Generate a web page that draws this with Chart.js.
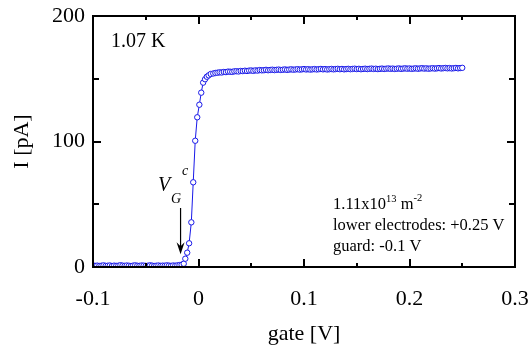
<!DOCTYPE html>
<html lang="en">
<head>
  <meta charset="UTF-8" />
  <title>I vs gate</title>
  <script src="https://cdn.jsdelivr.net/npm/chart.js"></script>
  <style>
    body { margin: 0; background: #fff; }
    .box { width: 530px; height: 347px; }
  </style>
</head>
<body>
  <div class="box"><canvas id="ivChart"></canvas></div>

<script>
// gate voltage [V]
const gateV = [
  -0.100,-0.098,-0.096,-0.094,-0.092,-0.090,-0.088,-0.086,-0.084,-0.082,
  -0.080,-0.078,-0.076,-0.074,-0.072,-0.070,-0.068,-0.066,-0.064,-0.062,
  -0.060,-0.058,-0.056,-0.054,-0.052,-0.050,-0.048,-0.046,-0.044,-0.042,
  -0.040,-0.038,-0.036,-0.034,-0.032,-0.030,-0.028,-0.026,-0.024,-0.022,
  -0.020,-0.018,-0.016,-0.014,
  -0.0125,-0.0107,-0.0089,-0.0068,-0.0050,-0.0031,-0.0012,0.0008,0.0026,0.0044,
  0.0062,0.0079,0.0096,0.0116,
  0.014,0.016,0.018,0.020,0.022,0.024,0.026,0.028,0.030,0.032,
  0.034,0.036,0.038,0.040,0.042,0.044,0.046,0.048,0.050,0.052,
  0.054,0.056,0.058,0.060,0.062,0.064,0.066,0.068,0.070,0.072,
  0.074,0.076,0.078,0.080,0.082,0.084,0.086,0.088,0.090,0.092,
  0.094,0.096,0.098,0.100,0.102,0.104,0.106,0.108,0.110,0.112,
  0.114,0.116,0.118,0.120,0.122,0.124,0.126,0.128,0.130,0.132,
  0.134,0.136,0.138,0.140,0.142,0.144,0.146,0.148,0.150,0.152,
  0.154,0.156,0.158,0.160,0.162,0.164,0.166,0.168,0.170,0.172,
  0.174,0.176,0.178,0.180,0.182,0.184,0.186,0.188,0.190,0.192,
  0.194,0.196,0.198,0.200,0.202,0.204,0.206,0.208,0.210,0.212,
  0.214,0.216,0.218,0.220,0.222,0.224,0.226,0.228,0.230,0.232,
  0.234,0.236,0.238,0.240,0.242,0.244,0.246,0.248,0.250
];

// current [pA]
const currentPA = [
  1.2,0.9,1.1,0.8,1.0,1.3,0.9,1.0,1.2,0.8,
  1.1,0.9,1.0,1.4,1.1,0.9,1.2,1.0,0.8,1.1,
  1.3,1.0,0.9,1.2,1.1,0.9,1.0,1.3,1.1,0.8,
  1.0,1.2,0.9,1.1,1.0,1.3,1.1,0.9,1.2,1.0,
  1.3,1.5,1.8,2.6,
  6.6,11.4,18.9,35.6,67.5,100.6,119.3,129.3,138.9,146.9,
  149.6,151.6,152.7,153.8,
  154.2,154.6,154.8,155.1,155.0,155.4,155.3,155.7,155.6,155.5,
  155.9,156.0,155.8,156.2,156.1,156.4,156.2,156.5,156.6,156.3,
  156.7,156.5,156.9,156.7,156.8,157.1,156.8,157.0,157.2,156.9,
  157.1,157.3,157.0,157.2,157.4,157.1,157.3,157.5,157.2,157.4,
  157.6,157.3,157.5,157.7,157.4,157.6,157.3,157.5,157.7,157.4,
  157.6,157.8,157.5,157.7,157.4,157.6,157.8,157.5,157.7,157.9,
  157.6,157.8,157.5,157.7,157.9,157.6,157.8,158.0,157.7,157.9,
  157.6,157.8,158.0,157.7,157.9,158.1,157.8,158.0,157.7,157.9,
  158.1,157.8,158.0,158.2,157.9,158.1,157.8,158.0,158.2,157.9,
  158.1,158.3,158.0,158.2,157.9,158.1,158.3,158.0,158.2,158.4,
  158.1,158.3,158.0,158.2,158.4,158.1,158.3,158.5,158.2,158.4,
  158.6,158.3,158.5,158.2,158.4,158.6,158.3,158.5,158.7
];

const xMajorTicks = [-0.1, 0, 0.1, 0.2, 0.3];
const xMinorTicks = [-0.05, 0.05, 0.15, 0.25];
const yMajorTicks = [0, 100, 200];
const yMinorTicks = [50, 150];

const serif = "'Liberation Serif', 'Times New Roman', serif";
const blue = '#1818e8';

// frame, inward ticks and the text notes
const frameAndNotes = {
  id: 'frameAndNotes',
  afterDatasetsDraw(chart) {
    const { ctx, chartArea: a, scales: { x, y } } = chart;
    ctx.save();
    ctx.strokeStyle = '#000';
    ctx.lineWidth = 2;
    ctx.strokeRect(a.left, a.top, a.right - a.left, a.bottom - a.top);

    const tickX = (v, len) => {
      const px = Math.round(x.getPixelForValue(v));
      ctx.beginPath();
      ctx.moveTo(px, a.bottom); ctx.lineTo(px, a.bottom - len);
      ctx.moveTo(px, a.top); ctx.lineTo(px, a.top + len);
      ctx.stroke();
    };
    const tickY = (v, len) => {
      const py = Math.round(y.getPixelForValue(v));
      ctx.beginPath();
      ctx.moveTo(a.left, py); ctx.lineTo(a.left + len, py);
      ctx.moveTo(a.right, py); ctx.lineTo(a.right - len, py);
      ctx.stroke();
    };
    xMajorTicks.forEach(v => tickX(v, 8));
    xMinorTicks.forEach(v => tickX(v, 4));
    yMajorTicks.forEach(v => tickY(v, 8));
    yMinorTicks.forEach(v => tickY(v, 6));

    // arrow to V_G^c
    const ax = x.getPixelForValue(-0.017);
    const y0 = y.getPixelForValue(47), y1 = y.getPixelForValue(11);
    ctx.lineWidth = 1.2;
    ctx.beginPath();
    ctx.moveTo(ax, y0); ctx.lineTo(ax, y1 - 6);
    ctx.stroke();
    ctx.fillStyle = '#000';
    ctx.beginPath();
    ctx.moveTo(ax, y1 + 1);
    ctx.lineTo(ax - 4, y1 - 11);
    ctx.lineTo(ax, y1 - 7);
    ctx.lineTo(ax + 4, y1 - 11);
    ctx.closePath();
    ctx.fill();

    ctx.textBaseline = 'alphabetic';
    ctx.textAlign = 'left';
    ctx.font = '20px ' + serif;
    ctx.fillText('1.07 K', a.left + 18, a.top + 31);

    ctx.font = 'italic 20px ' + serif;
    ctx.fillText('V', a.left + 65, a.top + 175);
    ctx.font = 'italic 14px ' + serif;
    ctx.fillText('c', a.left + 89, a.top + 159);
    ctx.fillText('G', a.left + 78, a.top + 187);

    // conditions
    const tx = a.left + 240;
    let cx = tx;
    const part = (s, size, dy) => {
      ctx.font = size + 'px ' + serif;
      ctx.fillText(s, cx, a.bottom - 58 + dy);
      cx += ctx.measureText(s).width;
    };
    part('1.11x10', 16.5, 0);
    part('13', 10.5, -7);
    part(' m', 16.5, 0);
    part('-2', 10.5, -8);
    ctx.font = '16.5px ' + serif;
    ctx.fillText('lower electrodes: +0.25 V', tx, a.bottom - 37);
    ctx.fillText('guard: -0.1 V', tx, a.bottom - 16);
    ctx.restore();
  }
};

const points = gateV.map((v, i) => ({ x: v, y: currentPA[i] }));

new Chart(document.getElementById('ivChart'), {
  type: 'line',
  data: {
    datasets: [{
      data: points,
      borderColor: blue,
      borderWidth: 1,
      pointRadius: 2.7,
      pointBorderWidth: 1,
      pointBackgroundColor: '#fff',
      pointBorderColor: blue,
      tension: 0
    }]
  },
  options: {
    responsive: true,
    maintainAspectRatio: false,
    animation: false,
    layout: { padding: { top: 16, right: 15, left: 0, bottom: 0 } },
    plugins: { legend: { display: false }, tooltip: { enabled: false } },
    scales: {
      x: {
        type: 'linear',
        min: -0.1,
        max: 0.3,
        afterBuildTicks: s => { s.ticks = xMajorTicks.map(v => ({ value: v })); },
        afterFit: s => {
          s.height = 80;
          s.paddingLeft = 0; s.paddingRight = 0;
        },
        grid: { display: false, drawTicks: false },
        border: { display: false },
        ticks: {
          padding: 19,
          color: '#000',
          font: { family: serif, size: 22 },
          maxRotation: 0,
          callback: v => String(Math.round(v * 10) / 10)
        },
        title: {
          display: true,
          text: 'gate [V]',
          color: '#000',
          font: { family: serif, size: 22 },
          padding: { top: 0, bottom: 0 }
        }
      },
      y: {
        min: 0,
        max: 200,
        afterBuildTicks: s => { s.ticks = yMajorTicks.map(v => ({ value: v })); },
        afterFit: s => {
          s.width = 93;
          s.paddingTop = 0; s.paddingBottom = 0;
        },
        grid: { display: false, drawTicks: false },
        border: { display: false },
        ticks: {
          padding: 8,
          color: '#000',
          font: { family: serif, size: 22 }
        },
        title: {
          display: true,
          text: 'I [pA]',
          color: '#000',
          font: { family: serif, size: 22 },
          padding: { top: 9, bottom: 0 }
        }
      }
    }
  },
  plugins: [frameAndNotes]
});
</script>
</body>
</html>
